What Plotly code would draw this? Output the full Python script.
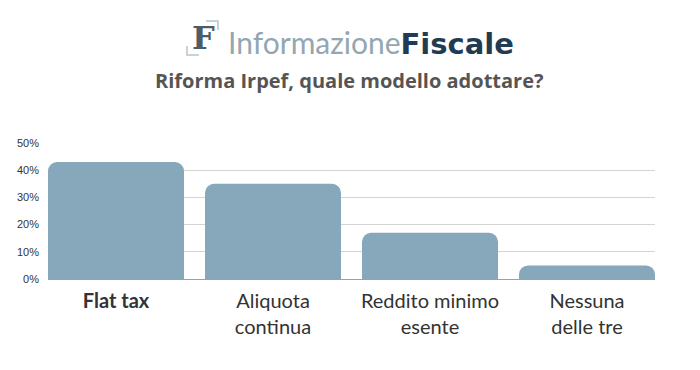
import plotly.graph_objects as go

categories = ["<b>Flat tax</b>", "Aliquota<br>continua", "Reddito minimo<br>esente", "Nessuna<br>delle tre"]
values = [43, 35, 17, 5]
y_ticks = [0, 10, 20, 30, 40, 50]
y_tick_labels = ["0%", "10%", "20%", "30%", "40%", "50%"]

L, R, T, B = 48, 45, 143, 91
PW, PH = 700 - L - R, 370 - T - B
BAR_FRAC = 136 / 157

def px(x):
    return (x - L) / PW

def py(y):
    return (370 - B - y) / PH

fig = go.Figure()
fig.add_trace(go.Bar(
    x=categories, y=values,
    marker=dict(color="#87a8ba", line=dict(width=0)),
    hoverinfo="skip",
))

fig.update_layout(
    width=700, height=370,
    margin=dict(l=L, r=R, t=T, b=B),
    paper_bgcolor="white", plot_bgcolor="white",
    bargap=1 - BAR_FRAC,
    barcornerradius=9,
    showlegend=False,
    xaxis=dict(
        range=[-BAR_FRAC / 2, len(categories) - 1 + BAR_FRAC / 2],
        tickfont=dict(family="Lato, Open Sans, sans-serif", size=20, color="#333333"),
        showgrid=False, showline=False, ticks="", automargin=False,
        ticklabelstandoff=8,
    ),
    yaxis=dict(
        range=[0, 50], tickvals=y_ticks, ticktext=y_tick_labels,
        tickfont=dict(family="Liberation Sans, Arial, sans-serif", size=11, color="#333333"),
        showgrid=True, gridcolor="#d4d4d4", gridwidth=1,
        zeroline=True, zerolinecolor="#a0a0a0", zerolinewidth=1,
        showline=False, ticks="", ticklabelstandoff=8, automargin=False,
    ),
)

# Logo
fig.add_annotation(
    xref="paper", yref="paper", x=px(203), y=py(38),
    text="<b>F</b>", showarrow=False,
    font=dict(family="DejaVu Serif, serif", size=32, color="#4d5d68"),
    xanchor="center", yanchor="middle",
)
fig.add_shape(type="path", xref="paper", yref="paper",
              path="M %f %f L %f %f L %f %f" % (px(187), py(46), px(187), py(55), px(199), py(55)),
              line=dict(color="#b8c4cb", width=1.5))
fig.add_shape(type="path", xref="paper", yref="paper",
              path="M %f %f L %f %f L %f %f" % (px(206), py(21), px(218), py(21), px(218), py(30)),
              line=dict(color="#b8c4cb", width=1.5))
fig.add_annotation(
    xref="paper", yref="paper", x=px(226), y=py(42),
    text="<span style='font-family:Lato;font-size:30px;color:#93a7b2'>Informazione</span>"
         "<b><span style='font-family:DejaVu Sans;font-size:29px;color:#1f3c54'>Fiscale</span></b>",
    showarrow=False,
    font=dict(family="Lato, Open Sans, sans-serif", size=30),
    xanchor="left", yanchor="middle",
)
fig.add_annotation(
    xref="paper", yref="paper", x=px(349), y=py(80),
    text="<b>Riforma Irpef, quale modello adottare?</b>",
    showarrow=False,
    font=dict(family="Open Sans, sans-serif", size=20, color="#555555"),
    xanchor="center", yanchor="middle",
)

fig.write_html("out.html", config={"displayModeBar": False},
               post_script="document.body.style.margin='0';")
